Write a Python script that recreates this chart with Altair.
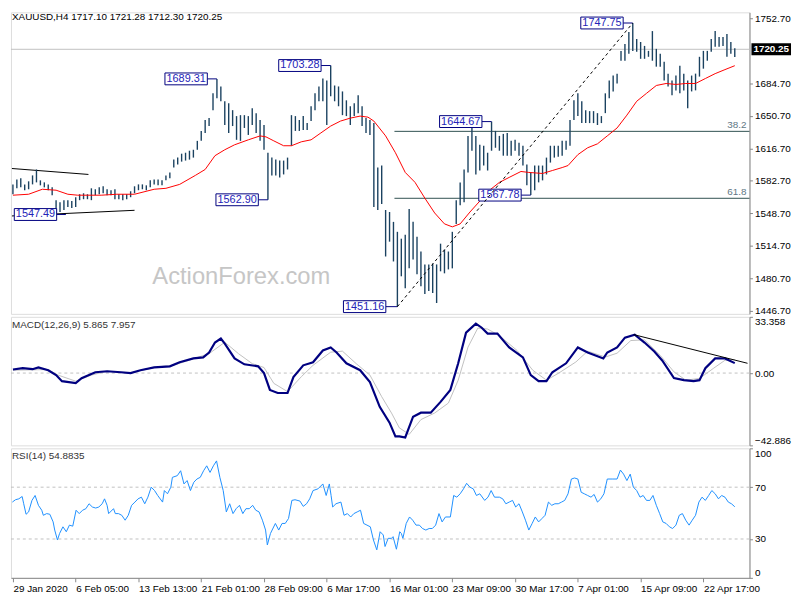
import json
import altair as alt
import pandas as pd

FONT = "Liberation Sans"

# ---------------- data ----------------
HIGH = [1579.0, 1584.2, 1585.3, 1579.0, 1582.2, 1588.4, 1594.6, 1583.2, 1581.1, 1579.0,
        1575.9, 1562.5, 1560.4, 1562.5, 1562.5, 1561.5, 1565.6, 1568.7, 1569.7, 1568.7,
        1574.9, 1573.9, 1575.9, 1577.0, 1573.9, 1572.9, 1573.9, 1568.7, 1568.7, 1568.7,
        1571.8, 1577.0, 1579.0, 1579.0, 1578.0, 1583.2, 1584.2, 1584.2, 1583.2, 1588.4,
        1591.5, 1604.9, 1607.0, 1611.1, 1612.1, 1614.2, 1615.2, 1624.5, 1634.9, 1646.3,
        1648.3, 1674.2, 1689.3, 1681.4, 1665.9, 1663.8, 1656.6, 1650.4, 1651.4, 1651.4,
        1650.4, 1658.7, 1653.5, 1646.3, 1641.1, 1612.1, 1607.0, 1604.9, 1603.9, 1603.9,
        1607.0, 1651.4, 1650.4, 1646.3, 1650.4, 1643.1, 1660.7, 1674.2, 1681.4, 1689.7,
        1687.6, 1703.3, 1682.4, 1681.4, 1676.2, 1666.9, 1660.7, 1663.8, 1672.1, 1660.7,
        1648.3, 1646.3, 1643.1, 1596.6, 1598.7, 1552.2, 1550.1, 1539.8, 1529.4, 1522.2,
        1526.3, 1553.2, 1539.8, 1524.3, 1508.8, 1495.3, 1495.3, 1496.3, 1495.3, 1517.0,
        1510.8, 1508.8, 1529.4, 1562.5, 1581.1, 1594.6, 1629.7, 1643.1, 1629.7, 1620.4,
        1619.4, 1612.1, 1644.7, 1634.9, 1629.7, 1631.8, 1632.8, 1624.5, 1625.6, 1622.5,
        1619.4, 1599.7, 1591.5, 1598.7, 1598.7, 1598.7, 1607.0, 1619.4, 1619.4, 1619.4,
        1624.5, 1624.5, 1646.3, 1666.9, 1674.2, 1665.9, 1656.6, 1655.6, 1655.6, 1653.5,
        1650.4, 1674.2, 1687.6, 1692.8, 1694.8, 1718.6, 1725.9, 1738.3, 1747.8, 1731.0,
        1727.9, 1723.8, 1718.6, 1739.3, 1720.7, 1715.5, 1707.2, 1694.8, 1687.6, 1692.8,
        1703.1, 1694.8, 1687.6, 1692.8, 1694.8, 1712.4, 1718.6, 1718.6, 1731.0, 1739.3,
        1733.1, 1733.1, 1736.2, 1727.9, 1721.3]
LOW = [1568.7, 1574.9, 1575.9, 1572.9, 1573.9, 1579.0, 1581.1, 1578.0, 1575.9, 1572.9,
       1567.7, 1547.5, 1550.1, 1552.2, 1555.3, 1554.2, 1555.3, 1562.5, 1563.5, 1563.5,
       1562.5, 1567.7, 1568.7, 1569.7, 1567.7, 1567.7, 1563.5, 1563.5, 1562.5, 1563.5,
       1565.6, 1569.7, 1572.9, 1573.9, 1572.9, 1575.9, 1579.0, 1578.0, 1578.0, 1583.2,
       1585.3, 1596.6, 1599.7, 1602.8, 1603.9, 1604.9, 1607.0, 1615.2, 1624.5, 1632.8,
       1640.0, 1656.6, 1669.0, 1665.9, 1641.1, 1632.8, 1640.0, 1625.6, 1624.5, 1638.0,
       1630.7, 1641.1, 1632.8, 1624.5, 1615.2, 1562.9, 1588.4, 1588.4, 1586.3, 1589.4,
       1594.6, 1619.4, 1634.9, 1634.9, 1635.9, 1635.9, 1645.2, 1656.6, 1665.9, 1665.9,
       1641.1, 1671.1, 1665.9, 1660.7, 1651.4, 1650.4, 1641.1, 1650.4, 1653.5, 1640.0,
       1632.8, 1630.7, 1555.3, 1552.2, 1558.4, 1503.6, 1519.1, 1498.4, 1451.2, 1482.9,
       1470.5, 1491.2, 1500.5, 1485.0, 1472.6, 1464.3, 1467.4, 1465.3, 1455.0, 1488.1,
       1486.0, 1490.1, 1491.2, 1537.7, 1557.3, 1560.4, 1591.5, 1614.2, 1589.4, 1593.5,
       1598.7, 1593.5, 1614.2, 1617.3, 1614.2, 1609.0, 1609.0, 1609.0, 1614.2, 1609.0,
       1598.7, 1578.0, 1567.8, 1572.9, 1581.1, 1583.2, 1589.4, 1601.8, 1607.0, 1608.0,
       1609.0, 1615.2, 1619.4, 1646.3, 1650.4, 1643.1, 1643.1, 1643.1, 1643.1, 1641.1,
       1643.1, 1653.5, 1669.0, 1676.2, 1684.5, 1708.3, 1708.3, 1715.5, 1718.6, 1717.6,
       1710.3, 1710.3, 1712.4, 1708.3, 1702.1, 1702.1, 1687.6, 1681.4, 1672.1, 1677.3,
       1674.2, 1677.3, 1658.7, 1676.2, 1677.3, 1691.7, 1700.0, 1708.3, 1717.6, 1722.8,
       1722.8, 1723.8, 1712.4, 1715.5, 1712.3]
BAR_POS = list(range(0, 2 * len(HIGH), 2))

MA_POS = [0, 8, 15, 22, 28, 33, 45, 53, 62, 72, 78, 85, 93, 98, 103, 108, 113, 120, 126, 129,
          133, 138, 142, 147, 152, 157, 162, 167, 172, 177, 181, 184, 190, 195, 200, 205, 210, 215, 220, 224,
          228, 233, 238, 243, 248, 253, 259, 263, 270, 275, 280, 283, 288, 293, 298, 303, 308, 313, 318, 323,
          328, 333, 338, 343, 348, 353, 358, 363, 368]
MA_VAL = [1567.7, 1568.7, 1573.9, 1572.9, 1568.7, 1567.7, 1567.7, 1568.7, 1568.7, 1573.9,
          1574.9, 1579.0, 1588.4, 1594.6, 1609.0, 1615.2, 1620.4, 1625.6, 1629.7, 1628.7,
          1624.5, 1619.4, 1619.4, 1623.5, 1625.6, 1632.8, 1640.0, 1645.2, 1648.3, 1650.4,
          1649.3, 1645.2, 1629.7, 1612.1, 1591.5, 1581.1, 1564.6, 1549.1, 1537.7, 1534.6,
          1537.7, 1550.1, 1561.5, 1572.9, 1581.1, 1586.3, 1592.5, 1591.5, 1590.4, 1593.5,
          1596.6, 1598.7, 1610.1, 1617.3, 1621.4, 1629.7, 1638.0, 1651.4, 1665.9, 1674.2,
          1682.4, 1684.5, 1683.5, 1684.5, 1684.5, 1689.7, 1694.8, 1699.0, 1703.1]

MACD_POS = [0, 5, 10, 13, 18, 22, 25, 32, 35, 42, 48, 55, 60, 65, 72, 80, 85, 92, 97, 100,
            103, 106, 108, 113, 118, 125, 128, 131, 135, 140, 143, 148, 153, 158, 162, 165, 170, 177, 182, 187,
            192, 195, 197, 200, 204, 208, 213, 218, 223, 227, 231, 236, 239, 242, 247, 253, 260, 264, 268, 272,
            275, 282, 288, 293, 301, 303, 308, 312, 317, 322, 327, 331, 337, 342, 347, 350, 353, 358, 363, 368]
MACD_VAL = [2.1, 2.9, 2.3, 3.4, 1.7, -1.2, -4.8, -5.9, -3.0, 0.5, 1.1, 0.5, 0.0, 1.7, 3.4, 4.0, 6.4, 8.7, 9.3, 12.2,
            18.1, 20.5, 17.5, 8.7, 5.2, 4.0, 0.0, -10.0, -11.8, -11.8, -2.4, 4.6, 6.4, 13.4, 15.2, 12.2, 5.8, 1.7, -5.3, -20.0,
            -29.4, -37.6, -37.6, -38.2, -25.9, -23.5, -23.5, -17.1, -10.0, 5.8, 24.0, 29.3, 26.9, 23.4, 23.4, 15.2, 9.3, -1.2, -4.8, -4.8,
            0.5, 5.8, 15.2, 12.2, 8.7, 12.2, 15.2, 21.0, 22.8, 18.1, 12.8, 7.5, -3.0, -4.2, -4.8, -4.2, 2.9, 8.7, 8.7, 5.9]
SIG_POS = [0, 18, 23, 32, 40, 48, 60, 73, 82, 92, 100, 108, 115, 122, 128, 133, 140, 147, 153, 162,
           168, 175, 182, 188, 193, 197, 202, 208, 215, 222, 227, 232, 237, 242, 248, 257, 265, 272, 278, 287,
           293, 302, 308, 315, 322, 330, 337, 343, 350, 357, 363, 368]
SIG_VAL = [1.7, 2.1, -1.2, -4.8, -1.2, 1.1, 0.1, 3.6, 4.6, 8.5, 11.5, 18.3, 11.5, 5.6, 3.3, -6.1, -11.0, -2.2, 4.6, 12.4,
           13.0, 5.6, -1.2, -14.0, -23.7, -32.5, -36.4, -27.6, -23.7, -17.8, -4.2, 15.4, 26.7, 26.1, 22.2, 13.4, 1.7, -4.2, -0.2, 6.6,
           13.0, 9.5, 11.8, 19.3, 19.7, 10.5, 0.7, -4.2, -3.2, 2.7, 7.6, 8.0]

RSI_POS = [-0.3, 1.3, 3, 4.7, 5.5, 6.7, 8, 9.7, 11.3, 13, 14.7, 15.5, 17.2, 18.8, 20.5, 21.3, 22.7, 23.8, 25.5, 27.2,
           28.8, 30.5, 32.2, 33.8, 35.5, 37.2, 38.8, 40.5, 42.2, 43.8, 45.5, 46.7, 48, 48.8, 51.3, 52.2, 53.8, 55.5, 57.2, 58.8,
           60.5, 62.2, 63.8, 65.5, 67.2, 68.8, 70.5, 72.2, 73.8, 76.3, 77.2, 78.8, 80.5, 81.3, 83.8, 85.5, 87.2, 88.8, 90.5, 92.2,
           93.8, 95.5, 97.2, 98.8, 100.5, 102.2, 103.8, 105.5, 107.2, 108.8, 110.5, 112.2, 113.8, 115.5, 117.2, 118.8, 120.5, 122.2, 123.8, 125.5,
           127.2, 128.8, 129.7, 131.3, 133.8, 135.5, 137.2, 138.8, 140.5, 142.2, 143.8, 146.3, 148, 149.7, 151.3, 153, 155.5, 158, 159.7, 161.3,
           162.2, 163, 164.7, 167.2, 168.8, 170.5, 172.2, 173.8, 175.5, 177.2, 178.8, 180.5, 182.2, 183.8, 185.5, 187.2, 188.8, 189.7, 191.3, 193,
           193.8, 195.5, 197.2,
           198.0, 198.8, 200.5, 202.2, 203.8, 205.5, 207.2, 208.8, 210.5, 212.2, 213.8, 215.5, 217.2, 218.8, 220.5, 223.0, 224.7, 226.3, 228.0, 229.7,
           231.3, 233.0, 234.7, 236.3, 238.0, 240.5, 242.2, 243.8, 245.5, 248.0, 249.7, 251.3, 253.0, 254.7, 256.3, 258.0, 259.7, 261.3, 263.0, 264.7,
           266.3, 268.0, 269.7, 271.3, 273.0, 274.7, 276.3, 278.0, 279.7, 281.3, 283.0, 284.7, 286.3, 288.0, 289.7, 291.3, 293.0, 294.7, 296.3, 298.0,
           299.7, 301.3, 303.0, 305.5, 308.0, 309.7, 311.3, 313.0, 314.7, 316.3, 318.0, 319.7, 321.3, 323.0, 324.7, 326.3, 328.0, 329.7, 331.3, 333.0,
           334.7, 336.3, 338.0, 339.7, 341.3, 343.0, 344.7, 346.3, 348.0, 349.7, 351.3, 353.0, 354.7, 356.3, 358.0, 359.7, 361.3, 363.0, 364.7, 366.3,
           368.0]
RSI_VAL = [58.5, 60.3, 61.0, 62.8, 57.2, 49.1, 50.9, 59.8, 63.6, 56.0, 52.2, 48.3, 49.6, 49.1, 43.2, 36.9, 29.2, 34.3, 39.4, 35.6,
           40.7, 39.9, 52.2, 49.6, 52.2, 53.4, 57.2, 54.7, 53.9, 54.7, 57.2, 61.0, 56.0, 49.6, 53.4, 49.6, 49.6, 48.3, 44.5, 48.3,
           56.0, 58.5, 61.0, 62.3, 57.2, 62.3, 70.0, 67.4, 63.6, 58.5, 67.4, 64.9, 70.0, 77.6, 78.9, 82.7, 72.5, 75.1, 67.4, 73.8,
           76.3, 77.6, 82.7, 86.5, 81.4, 86.5, 90.3, 77.6, 67.4, 50.9, 57.2, 49.6, 53.4, 56.0, 49.6, 53.4, 53.4, 56.0, 52.2, 50.9,
           44.5, 36.9, 25.4, 34.3, 42.0, 36.9, 42.0, 42.0, 45.8, 59.8, 60.3, 59.3, 55.2, 57.2, 61.0, 67.4, 68.7, 72.5, 63.6, 72.5,
           63.6, 54.7, 57.2, 58.5, 48.3, 49.6, 47.0, 49.6, 50.9, 52.2, 42.0, 40.7, 39.4, 29.2, 21.6, 35.6, 33.1, 24.2, 30.5, 30.5,
           31.8, 22.1, 35.6,
           34.3, 30.5, 42.0, 47.0, 44.5, 40.7, 40.7, 38.1, 36.9, 38.1, 38.1, 40.7, 49.6, 43.2, 47.0, 47.0, 63.6, 62.3, 64.9, 68.7,
           73.0, 70.0, 68.7, 63.6, 64.9, 59.8, 62.3, 67.4, 62.3, 62.3, 61.0, 57.2, 58.5, 59.8, 54.7, 57.2, 50.9, 44.5, 36.9, 42.0,
           47.0, 43.2, 45.8, 48.3, 58.5, 56.0, 57.2, 57.2, 58.5, 59.8, 64.9, 76.3, 77.1, 76.3, 66.1, 64.9, 63.6, 62.3, 64.4, 58.5,
           61.0, 64.9, 76.3, 76.3, 76.3, 83.2, 80.1, 75.1, 80.1, 70.0, 67.4, 62.3, 63.6, 59.8, 59.8, 63.6, 56.0, 49.6, 43.2, 42.0,
           39.4, 38.1, 40.7, 48.3, 49.6, 44.5, 40.7, 44.5, 48.3, 58.5, 62.3, 59.8, 63.6, 67.4, 64.9, 61.0, 63.6, 62.3, 58.5, 57.2,
           54.9]

LABEL_TEXT = ["1547.49", "1689.31", "1703.28", "1562.90", "1451.16", "1644.67", "1567.78", "1747.75"]
LABEL_PRICE = [1547.49, 1689.31, 1703.28, 1562.90, 1451.16, 1644.67, 1567.78, 1747.75]
LABEL_POS = [11.5, 88.3, 146.3, 114.3, 179.3, 228.3, 248.3, 300.3]
LABEL_BAR = [27, 104, 162, 130, 196, 244, 264, 316]

PRICE_TICKS = [1752.70, 1684.70, 1650.70, 1616.70, 1582.70, 1548.70, 1514.70, 1480.70, 1446.70]
LAST_PRICE = 1720.25
FIB_LEVELS = [1634.45, 1564.46]
FIB_TEXT = ["38.2", "61.8"]
TRI_POS0 = [-0.5, -0.5]
TRI_POS1 = [38.5, 62]
TRI_P0 = [1595.6, 1546.0]
TRI_P1 = [1589.4, 1551.9]
SWING = {"b0": [196], "b1": [316], "p0": [1451.16], "p1": [1747.75]}
MACD_TREND = {"b0": [316.5], "b1": [374.5], "v0": [22.8], "v1": [5.8]}
MACD_TICKS = [33.358, 0, -42.886]
RSI_TICKS = [100, 70, 30, 0]
RSI_LEVELS = [70, 30]
X_TICKS = [0, 32, 64, 96, 128, 160, 192, 224, 256, 288, 320, 352]
X_LABELS = ["29 Jan 2020", "6 Feb 05:00", "13 Feb 13:00", "21 Feb 01:00", "28 Feb 09:00",
            "6 Mar 17:00", "16 Mar 01:00", "23 Mar 09:00", "30 Mar 17:00", "7 Apr 01:00",
            "15 Apr 09:00", "22 Apr 17:00"]

# ---------------- chart ----------------
W = 747
XS = alt.Scale(domain=[-1, 375.5], nice=False, zero=False)
YS_MAIN = alt.Scale(domain=[1443.6, 1758.9], nice=False, zero=False)
YS_MACD = alt.Scale(domain=[-42.886, 33.358], nice=False, zero=False)
YS_RSI = alt.Scale(domain=[0, 100], nice=False, zero=False)

AX_MAIN = alt.Axis(orient="right", values=PRICE_TICKS, format=".2f", title=None, grid=False,
                   tickSize=3, labelPadding=2, labelOverlap=False)
AX_MACD = alt.Axis(orient="right", values=MACD_TICKS, title=None, grid=False, tickSize=3,
                   labelPadding=2, labelFlush=True, labelOverlap=False,
                   labelExpr="datum.value == 0 ? '0.00' : format(datum.value, '.3f')")
AX_RSI = alt.Axis(orient="right", values=RSI_TICKS, format="d", title=None, grid=False, tickSize=3,
                  labelPadding=2, labelFlush=True, labelOverlap=False)
AX_X = alt.Axis(values=X_TICKS, title=None, grid=False, tickSize=4, labelAlign="left",
                labelPadding=2, labelOverlap=False, labelFlush=False,
                labelExpr=json.dumps(X_LABELS) + "[round(datum.value / 32)]")


def xm(f):
    return alt.X(f, type="quantitative", scale=XS, axis=None)


def ym(f):
    return alt.Y(f, type="quantitative", scale=YS_MAIN, axis=AX_MAIN)


bars_df = pd.DataFrame({"pos": BAR_POS, "high": HIGH, "low": LOW})
ma_df = pd.DataFrame({"pos": MA_POS, "ma": MA_VAL})
lab_df = pd.DataFrame({"label": LABEL_TEXT, "price": LABEL_PRICE, "pos": LABEL_POS, "bar": LABEL_BAR})
lab_df["bl"] = lab_df["pos"] - 10.8
lab_df["br"] = lab_df["pos"] + 10.8
lab_df["pl"] = lab_df["price"] - 6.2
lab_df["ph"] = lab_df["price"] + 6.2
fib_df = pd.DataFrame({"p": FIB_LEVELS, "lab": FIB_TEXT, "b0": [194.5, 194.5], "b1": [375.5, 375.5]})
tri_df = pd.DataFrame({"b0": TRI_POS0, "b1": TRI_POS1, "p0": TRI_P0, "p1": TRI_P1})
last_df = pd.DataFrame({"p": [LAST_PRICE], "pl": [LAST_PRICE - 6.2], "ph": [LAST_PRICE + 6.2],
                        "t": ["1720.25"]})

last_line = alt.Chart(last_df).mark_rule(color="#c0c0c0", strokeWidth=1).encode(y=ym("p"))
fib_lines = alt.Chart(fib_df).mark_rule(color="#2f4f4f", strokeWidth=1).encode(
    x=xm("b0"), x2="b1", y=ym("p"))
fib_text = alt.Chart(fib_df).mark_text(align="right", baseline="bottom", dy=-1, font=FONT,
                                       fontSize=10, color="#5f7886").encode(
    x=alt.value(744), y=ym("p"), text="lab")
tri = alt.Chart(tri_df).mark_rule(color="black", strokeWidth=1).encode(
    x=xm("b0"), x2="b1", y=ym("p0"), y2="p1")
ma = alt.Chart(ma_df).mark_line(color="#ff0000", strokeWidth=1).encode(x=xm("pos"), y=ym("ma"))
bars = alt.Chart(bars_df).mark_rule(color="#1b4260", strokeWidth=1.4).encode(
    x=xm("pos"), y=ym("low"), y2="high")
links = alt.Chart(lab_df).mark_rule(color="#000080", strokeWidth=1).encode(
    x=xm("br"), x2="bar", y=ym("price"))
boxes = alt.Chart(lab_df).mark_rect(fill="white", stroke="#000080", strokeWidth=1).encode(
    x=xm("bl"), x2="br", y=ym("pl"), y2="ph")
texts = alt.Chart(lab_df).mark_text(font=FONT, fontSize=11, color="#2323b8").encode(
    x=xm("pos"), y=ym("price"), text="label")
swing = alt.Chart(pd.DataFrame(SWING)).mark_rule(color="black", strokeWidth=1, strokeDash=[3, 3]).encode(
    x=xm("b0"), x2="b1", y=ym("p0"), y2="p1")
wm = alt.Chart(pd.DataFrame({"t": ["ActionForex.com"]})).mark_text(
    font=FONT, fontSize=24, color="#c6c6c6").encode(x=alt.value(233), y=alt.value(268), text="t")
title = alt.Chart(pd.DataFrame({"t": ["XAUUSD,H4  1717.10 1721.28 1712.30 1720.25"]})).mark_text(
    font=FONT, fontSize=10, color="black", align="left", baseline="middle").encode(
    x=alt.value(1), y=alt.value(5), text="t")
last_box = alt.Chart(last_df).mark_rect(fill="black").encode(
    x=alt.value(749), x2=alt.value(789), y=ym("pl"), y2="ph")
last_txt = alt.Chart(last_df).mark_text(font=FONT, fontSize=10, color="white", fontWeight="bold").encode(
    x=alt.value(769), y=ym("p"), text="t")

main = alt.layer(last_line, fib_lines, fib_text, tri, bars, ma, links, boxes, texts, swing, wm, title,
                 last_box, last_txt).properties(width=W, height=305)


def ymacd(f):
    return alt.Y(f, type="quantitative", scale=YS_MACD, axis=AX_MACD)


macd_df = pd.DataFrame({"pos": MACD_POS, "v": MACD_VAL})
sig_df = pd.DataFrame({"pos": SIG_POS, "v": SIG_VAL})
zero = alt.Chart(pd.DataFrame({"v": [0]})).mark_rule(color="#c0c0c0", strokeDash=[3, 3]).encode(y=ymacd("v"))
sig = alt.Chart(sig_df).mark_line(color="#c0c0c0", strokeWidth=1).encode(x=xm("pos"), y=ymacd("v"))
macd = alt.Chart(macd_df).mark_line(color="#000080", strokeWidth=2.2).encode(x=xm("pos"), y=ymacd("v"))
trend = alt.Chart(pd.DataFrame(MACD_TREND)).mark_rule(color="black", strokeWidth=1).encode(
    x=xm("b0"), x2="b1", y=ymacd("v0"), y2="v1")
macd_title = alt.Chart(pd.DataFrame({"t": ["MACD(12,26,9) 5.865 7.957"]})).mark_text(
    font=FONT, fontSize=10, color="#333333", align="left", baseline="middle").encode(
    x=alt.value(1), y=alt.value(8), text="t")
macd_panel = alt.layer(zero, sig, macd, trend, macd_title).properties(width=W, height=130)


def yrsi(f):
    return alt.Y(f, type="quantitative", scale=YS_RSI, axis=AX_RSI)


rsi_df = pd.DataFrame({"pos": RSI_POS, "v": RSI_VAL})
levels = alt.Chart(pd.DataFrame({"v": RSI_LEVELS})).mark_rule(color="#c0c0c0", strokeDash=[3, 3]).encode(
    y=yrsi("v"))
rsi = alt.Chart(rsi_df).mark_line(color="#1e90ff", strokeWidth=1).encode(
    x=alt.X("pos", type="quantitative", scale=XS, axis=AX_X), y=yrsi("v"))
rsi_title = alt.Chart(pd.DataFrame({"t": ["RSI(14) 54.8835"]})).mark_text(
    font=FONT, fontSize=10, color="#333333", align="left", baseline="middle").encode(
    x=alt.value(1), y=alt.value(8), text="t")
rsi_panel = alt.layer(levels, rsi, rsi_title).properties(width=W, height=131)

chart = alt.vconcat(main, macd_panel, rsi_panel, spacing=3, bounds="flush", padding=0).configure_view(
    stroke="black", strokeWidth=1).configure_axis(
    labelFont=FONT, labelFontSize=10, labelColor="black", domainColor="black", tickColor="black",
    domainWidth=1).configure(background="white")

chart.save("out.html", embed_options={"renderer": "svg", "actions": False})
